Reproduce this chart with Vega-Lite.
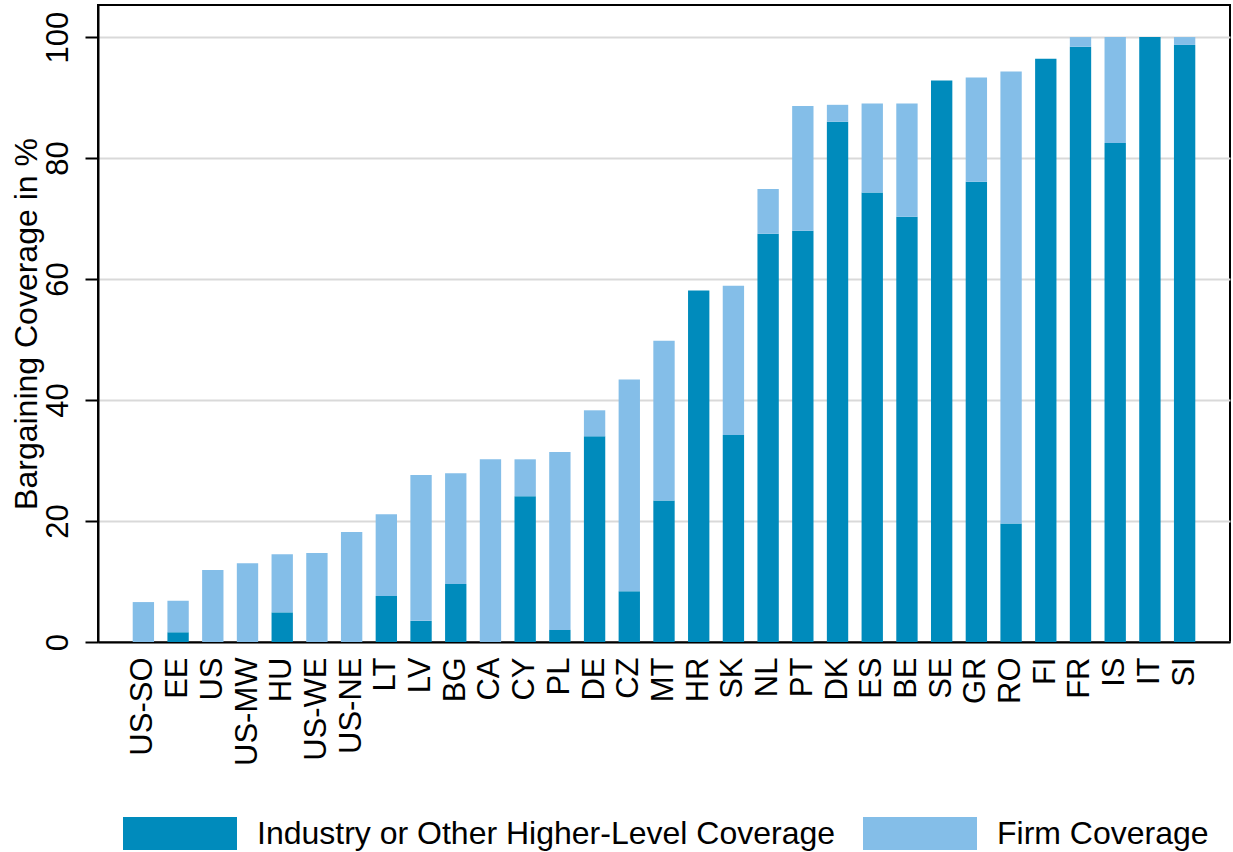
{
  "$schema": "https://vega.github.io/schema/vega-lite/v6.json",
  "width": 1132,
  "height": 637,
  "autosize": {"type": "none"},
  "padding": {"left": 98, "top": 5, "right": 3, "bottom": 210},
  "background": "white",
  "config": {
    "font": "Liberation Sans",
    "view": {"stroke": "black", "strokeWidth": 2},
    "axis": {"labelFont": "Liberation Sans", "titleFont": "Liberation Sans", "labelColor": "black", "titleColor": "black", "titleFontWeight": "normal"},
    "legend": {"labelFont": "Liberation Sans", "labelColor": "black"}
  },
  "data": {
    "values": [
      {"country": "US-SO", "Industry or Other Higher-Level Coverage": 0, "Firm Coverage": 6.6},
      {"country": "EE", "Industry or Other Higher-Level Coverage": 1.6, "Firm Coverage": 5.2},
      {"country": "US", "Industry or Other Higher-Level Coverage": 0, "Firm Coverage": 11.9},
      {"country": "US-MW", "Industry or Other Higher-Level Coverage": 0, "Firm Coverage": 13.0},
      {"country": "HU", "Industry or Other Higher-Level Coverage": 4.9, "Firm Coverage": 9.6},
      {"country": "US-WE", "Industry or Other Higher-Level Coverage": 0, "Firm Coverage": 14.7},
      {"country": "US-NE", "Industry or Other Higher-Level Coverage": 0, "Firm Coverage": 18.2},
      {"country": "LT", "Industry or Other Higher-Level Coverage": 7.6, "Firm Coverage": 13.5},
      {"country": "LV", "Industry or Other Higher-Level Coverage": 3.5, "Firm Coverage": 24.1},
      {"country": "BG", "Industry or Other Higher-Level Coverage": 9.6, "Firm Coverage": 18.3},
      {"country": "CA", "Industry or Other Higher-Level Coverage": 0, "Firm Coverage": 30.2},
      {"country": "CY", "Industry or Other Higher-Level Coverage": 24.1, "Firm Coverage": 6.1},
      {"country": "PL", "Industry or Other Higher-Level Coverage": 2.0, "Firm Coverage": 29.4},
      {"country": "DE", "Industry or Other Higher-Level Coverage": 34.0, "Firm Coverage": 4.3},
      {"country": "CZ", "Industry or Other Higher-Level Coverage": 8.4, "Firm Coverage": 35.0},
      {"country": "MT", "Industry or Other Higher-Level Coverage": 23.4, "Firm Coverage": 26.4},
      {"country": "HR", "Industry or Other Higher-Level Coverage": 58.1, "Firm Coverage": 0},
      {"country": "SK", "Industry or Other Higher-Level Coverage": 34.2, "Firm Coverage": 24.7},
      {"country": "NL", "Industry or Other Higher-Level Coverage": 67.5, "Firm Coverage": 7.4},
      {"country": "PT", "Industry or Other Higher-Level Coverage": 68.0, "Firm Coverage": 20.6},
      {"country": "DK", "Industry or Other Higher-Level Coverage": 86.0, "Firm Coverage": 2.8},
      {"country": "ES", "Industry or Other Higher-Level Coverage": 74.3, "Firm Coverage": 14.7},
      {"country": "BE", "Industry or Other Higher-Level Coverage": 70.3, "Firm Coverage": 18.7},
      {"country": "SE", "Industry or Other Higher-Level Coverage": 92.8, "Firm Coverage": 0},
      {"country": "GR", "Industry or Other Higher-Level Coverage": 76.1, "Firm Coverage": 17.2},
      {"country": "RO", "Industry or Other Higher-Level Coverage": 19.6, "Firm Coverage": 74.7},
      {"country": "FI", "Industry or Other Higher-Level Coverage": 96.4, "Firm Coverage": 0},
      {"country": "FR", "Industry or Other Higher-Level Coverage": 98.4, "Firm Coverage": 1.6},
      {"country": "IS", "Industry or Other Higher-Level Coverage": 82.5, "Firm Coverage": 17.5},
      {"country": "IT", "Industry or Other Higher-Level Coverage": 100, "Firm Coverage": 0},
      {"country": "SI", "Industry or Other Higher-Level Coverage": 98.7, "Firm Coverage": 1.3}
    ]
  },
  "transform": [
    {"fold": ["Industry or Other Higher-Level Coverage", "Firm Coverage"], "as": ["type", "value"]}
  ],
  "mark": {"type": "bar"},
  "encoding": {
    "x": {
      "field": "country",
      "type": "nominal",
      "sort": null,
      "scale": {"paddingInner": 0.385, "paddingOuter": 1.06},
      "axis": {
        "title": null,
        "labelAngle": -90,
        "labelAlign": "right",
        "labelBaseline": "middle",
        "labelFontSize": 31,
        "labelPadding": 15,
        "ticks": false,
        "tickSize": 0,
        "domainColor": "black",
        "domainWidth": 2,
        "grid": false,
        "labelLimit": 0
      }
    },
    "y": {
      "field": "value",
      "type": "quantitative",
      "stack": "zero",
      "scale": {"domain": [0, 105.3], "nice": false, "zero": true},
      "axis": {
        "title": "Bargaining Coverage in %",
        "titleFontSize": 32,
        "titlePadding": -1,
        "values": [0, 20, 40, 60, 80, 100],
        "labelAngle": -90,
        "labelAlign": "center",
        "labelBaseline": "alphabetic",
        "labelFontSize": 31,
        "labelPadding": 18,
        "tickSize": 13,
        "tickWidth": 2,
        "tickColor": "black",
        "domainColor": "black",
        "domainWidth": 2,
        "grid": true,
        "gridColor": "#d9d9d9",
        "gridWidth": 2
      }
    },
    "color": {
      "field": "type",
      "type": "nominal",
      "scale": {
        "domain": ["Industry or Other Higher-Level Coverage", "Firm Coverage"],
        "range": ["#008bbc", "#84bee8"]
      },
      "legend": {
        "title": null,
        "orient": "none",
        "direction": "horizontal",
        "legendX": 25,
        "legendY": 812,
        "padding": 0,
        "symbolType": "M-1,-1H5.909V1H-1Z",
        "symbolSize": 1089,
        "symbolStrokeWidth": 0,
        "symbolOpacity": 1,
        "labelFontSize": 32,
        "labelOffset": 101,
        "labelLimit": 0,
        "columnPadding": 27
      }
    },
    "order": {"field": "type", "sort": "descending"}
  }
}
